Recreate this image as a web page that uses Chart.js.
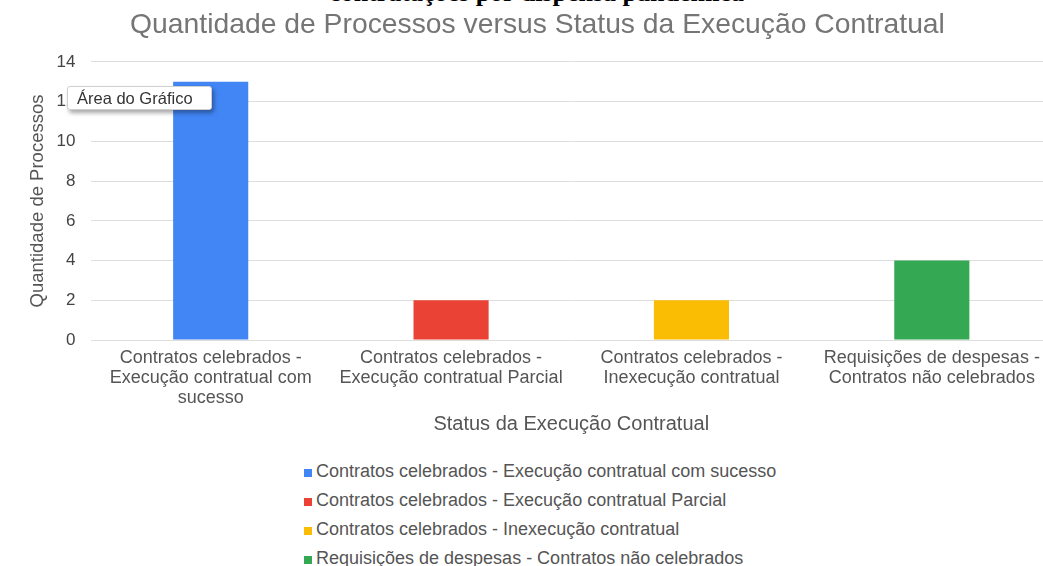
<!DOCTYPE html>
<html>
<head>
<meta charset="utf-8">
<script src="https://cdn.jsdelivr.net/npm/chart.js@4.4.0/dist/chart.umd.min.js"></script>
<style>
  html, body { margin:0; padding:0; background:#fff; }
  body { width:1043px; height:566px; overflow:hidden; position:relative; font-family:"Liberation Sans", Arial, sans-serif; }
  #top { position:absolute; left:0; width:1073px; top:-20px; text-align:center; font-family:"Liberation Serif","Times New Roman",serif; font-weight:bold; font-size:26px; line-height:26px; color:#000; white-space:nowrap; }
  #wrap { position:absolute; left:0; top:0; width:1052px; height:447px; }
  #tip { position:absolute; left:67px; top:86px; width:145px; height:24px; box-sizing:border-box; background:#fff; border:1px solid #d0d0d0; border-radius:3px; box-shadow:2px 3px 4px rgba(0,0,0,0.35); font-size:16.5px; line-height:22px; color:#333; padding-left:9px; white-space:nowrap; }
  #legend { position:absolute; left:303px; top:461px; }
  .li { height:29px; line-height:20px; font-size:18px; color:#555; white-space:nowrap; position:relative; padding-left:13px; }
  .li span.m { position:absolute; left:1px; top:8px; width:8px; height:8px; }
</style>
</head>
<body>
<div id="top">contratações por dispensa pandêmica</div>
<div id="wrap"><canvas id="c"></canvas></div>
<div id="tip">Área do Gráfico</div>
<div id="legend"></div>
<script>
const categories = [
  "Contratos celebrados - Execução contratual com sucesso",
  "Contratos celebrados - Execução contratual Parcial",
  "Contratos celebrados - Inexecução contratual",
  "Requisições de despesas - Contratos não celebrados"
];
const tickLabels = [
  ["Contratos celebrados -", "Execução contratual com", "sucesso"],
  ["Contratos celebrados -", "Execução contratual Parcial"],
  ["Contratos celebrados -", "Inexecução contratual"],
  ["Requisições de despesas -", "Contratos não celebrados"]
];
const values = [13, 2, 2, 4];
const colors = ["#4285F4", "#EA4335", "#FBBC04", "#34A853"];
const yTicks = [0, 2, 4, 6, 8, 10, 12, 14];

const FONT = '"Liberation Sans", Arial, sans-serif';

new Chart(document.getElementById('c'), {
  type: 'bar',
  data: {
    labels: tickLabels,
    datasets: [{
      label: 'Quantidade de Processos',
      data: values,
      backgroundColor: colors,
      borderWidth: 0,
      barPercentage: 0.3125,
      categoryPercentage: 1.0
    }]
  },
  options: {
    responsive: true,
    maintainAspectRatio: false,
    animation: false,
    layout: { padding: { left: 23, right: 0, top: 0, bottom: 6.6 } },
    plugins: {
      legend: { display: false },
      tooltip: { enabled: false },
      title: {
        display: true,
        text: 'Quantidade de Processos versus Status da Execução Contratual',
        color: '#757575',
        font: { family: FONT, size: 28.3, weight: 'normal' },
        padding: { top: 8.5, bottom: 19.5 }
      }
    },
    scales: {
      y: {
        min: 0, max: 14,
        afterBuildTicks: (s) => { s.ticks = yTicks.map(v => ({ value: v })); },
        ticks: { color: '#444', font: { family: FONT, size: 17 }, padding: 15 },
        grid: { color: '#dedede', lineWidth: 1, drawTicks: false },
        border: { display: false },
        title: { display: true, text: 'Quantidade de Processos', color: '#555', font: { family: FONT, size: 18.5 }, padding: { top: 3.9, bottom: -7.5 } }
      },
      x: {
        afterFit: (s) => { s.paddingLeft = 0; s.paddingRight = 0; },
        grid: { display: false, drawTicks: false },
        border: { display: false },
        ticks: { color: '#555', font: { family: FONT, size: 18, lineHeight: 1.111 }, padding: 8, maxRotation: 0, autoSkip: false },
        title: { display: true, text: 'Status da Execução Contratual', color: '#555', font: { family: FONT, size: 20 }, padding: { top: -3.6, bottom: 4 } }
      }
    }
  }
});

const lg = document.getElementById('legend');
categories.forEach((c, i) => {
  const d = document.createElement('div');
  d.className = 'li';
  const m = document.createElement('span');
  m.className = 'm';
  m.style.background = colors[i];
  d.appendChild(m);
  d.appendChild(document.createTextNode(c));
  lg.appendChild(d);
});
</script>
</body>
</html>
